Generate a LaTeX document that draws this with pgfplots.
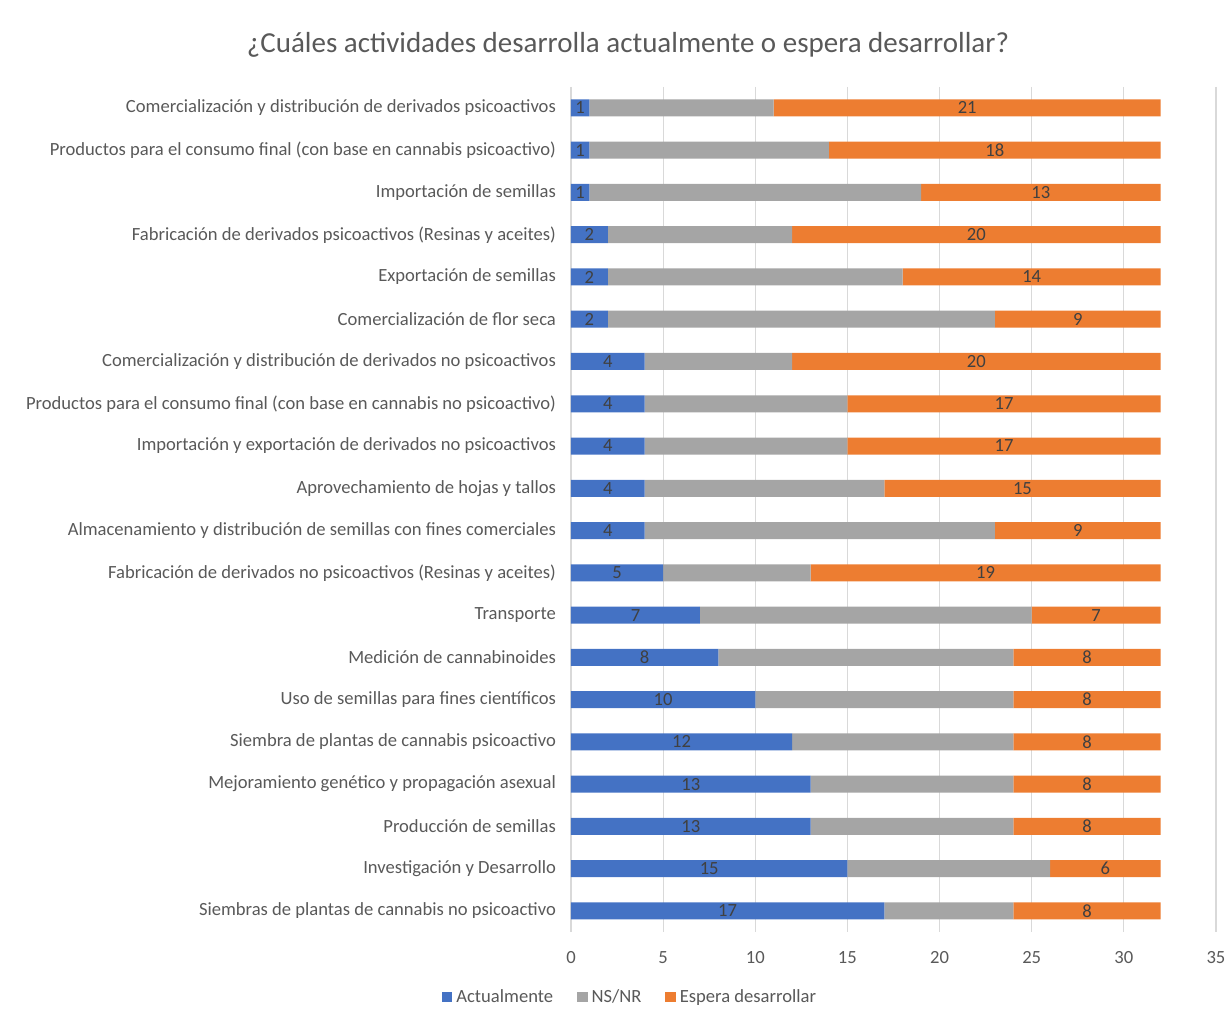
\documentclass[border=0pt]{standalone}
\usepackage{pgfplots}
\pgfplotsset{compat=1.18}
\usepackage{pgfplotstable}
\usepackage{fontspec}
\setmainfont{Carlito}
\definecolor{cblue}{HTML}{4472C4}
\definecolor{cgray}{HTML}{A5A5A5}
\definecolor{corange}{HTML}{ED7D31}
\definecolor{txt}{HTML}{595959}
\definecolor{lbl}{HTML}{404040}
\definecolor{gridc}{HTML}{D9D9D9}
\pgfplotstableread{
i a n e
0 1 10 21
1 1 13 18
2 1 18 13
3 2 10 20
4 2 16 14
5 2 21 9
6 4 8 20
7 4 11 17
8 4 11 17
9 4 13 15
10 4 19 9
11 5 8 19
12 7 18 7
13 8 16 8
14 10 14 8
15 12 12 8
16 13 11 8
17 13 11 8
18 15 11 6
19 17 7 8
}\data
\begin{document}
\begin{tikzpicture}
\path[use as bounding box] (-285.5pt,-39.5pt) rectangle (330pt,466pt);
\begin{axis}[
  xbar stacked,
  x=9.214pt, y=21.13pt,
  xmin=0, xmax=35, ymin=-0.5, ymax=19.5,
  y dir=reverse,
  bar width=8.5pt,
  axis line style={draw=none},
  major tick style={draw=none},
  xmajorgrids, grid style={draw=gridc, line width=0.6pt},
  xtick={0,5,...,35},
  ytick={0,...,19},
  yticklabels={
    Comercialización y distribución de derivados psicoactivos,
    Productos para el consumo final (con base en cannabis psicoactivo),
    Importación de semillas,
    Fabricación de derivados psicoactivos (Resinas y aceites),
    Exportación de semillas,
    Comercialización de flor seca,
    Comercialización y distribución de derivados no psicoactivos,
    Productos para el consumo final (con base en cannabis no psicoactivo),
    Importación y exportación de derivados no psicoactivos,
    Aprovechamiento de hojas y tallos,
    Almacenamiento y distribución de semillas con fines comerciales,
    Fabricación de derivados no psicoactivos (Resinas y aceites),
    Transporte,
    Medición de cannabinoides,
    Uso de semillas para fines científicos,
    Siembra de plantas de cannabis psicoactivo,
    Mejoramiento genético y propagación asexual,
    Producción de semillas,
    Investigación y Desarrollo,
    Siembras de plantas de cannabis no psicoactivo},
  /pgf/number format/assume math mode=true,
  tick label style={font=\fontsize{9.3}{11}\selectfont, text=txt},
  yticklabel style={xshift=-4pt},
  xticklabel style={yshift=-6pt},
  legend style={at={(0.093,-0.077)}, anchor=center, draw=none, legend columns=3,
    font=\fontsize{9.3}{11}\selectfont, text=txt,
    /tikz/every even column/.append style={column sep=10pt}},
  legend image code/.code={\fill[#1] (0pt,-2.6pt) rectangle (5.2pt,2.6pt);},
  every node near coord/.append style={font=\fontsize{9.3}{11}\selectfont, text=lbl, anchor=center},
]
\addplot[fill=cblue, draw=none, visualization depends on={\thisrow{a} \as \va},
  nodes near coords={\pgfmathprintnumber{\va}}]
  table[x=a, y=i] {\data};
\addplot[fill=cgray, draw=none] table[x=n, y=i] {\data};
\addplot[fill=corange, draw=none, visualization depends on={\thisrow{e} \as \ve},
  nodes near coords={\pgfmathprintnumber{\ve}}]
  table[x=e, y=i] {\data};
\legend{Actualmente, NS/NR, Espera desarrollar}
\end{axis}
\node[text=txt, font=\fontsize{14.5}{17}\selectfont] at (28.5pt,443.5pt) {¿Cuáles actividades desarrolla actualmente o espera desarrollar?};
\end{tikzpicture}
\end{document}
